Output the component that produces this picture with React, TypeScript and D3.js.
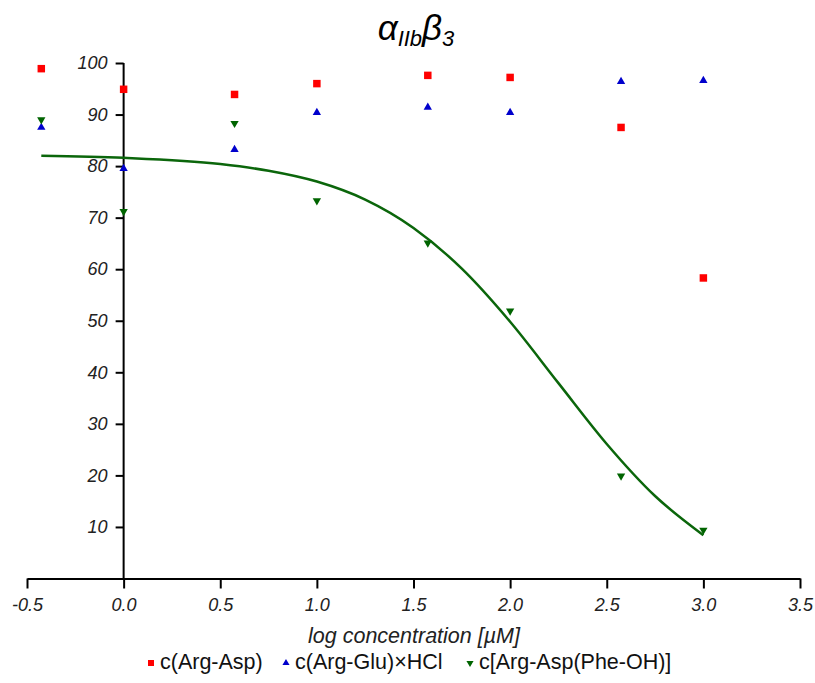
import { useEffect, useRef } from 'react';
import * as d3 from 'd3';

// log concentration [µM] for each measured point
const logConc = [-0.426, 0, 0.574, 1, 1.574, 2, 2.574, 3];
const argAsp = [98.9, 94.9, 93.9, 96.0, 97.6, 97.2, 87.5, 58.3];
const argGlu = [87.5, 79.5, 83.2, 90.4, 91.4, 90.4, 96.4, 96.6];
const argAspPhe = [89.0, 71.2, 88.3, 73.3, 65.1, 51.9, 19.9, 9.4];

// fitted curve for c[Arg-Asp(Phe-OH)]
const fitX = [-0.426, 0, 0.5, 0.75, 1, 1.25, 1.5, 1.75, 2, 2.25, 2.5, 2.75, 3];
const fitY = [82.0, 81.6, 80.4, 79.1, 77.0, 73.5, 68.0, 60.1, 49.8, 37.9, 26.1, 16.0, 8.4];

const xTicks = [-0.5, 0, 0.5, 1, 1.5, 2, 2.5, 3, 3.5];
const yTicks = [10, 20, 30, 40, 50, 60, 70, 80, 90, 100];

const seriesNames = ['c(Arg-Asp)', 'c(Arg-Glu)×HCl', 'c[Arg-Asp(Phe-OH)]'];
const seriesColors = ['#ff0000', '#0000cc', '#006400'];

const FONT = '"Liberation Sans", Arial, sans-serif';

export default function App() {
  const svgRef = useRef<SVGSVGElement>(null);

  useEffect(() => {
    const width = 815;
    const height = 683;
    const margin = { top: 63, right: 15, bottom: 104.5, left: 27 };

    const svg = d3.select(svgRef.current);
    svg.selectAll('*').remove();
    svg.attr('width', width).attr('height', height);

    const x = d3.scaleLinear().domain([-0.5, 3.5]).range([margin.left, width - margin.right]);
    const y = d3.scaleLinear().domain([0, 100]).range([height - margin.bottom, margin.top]);

    // title: alpha IIb beta 3
    const title = svg.append('text')
      .attr('x', 416)
      .attr('y', 40)
      .attr('text-anchor', 'middle')
      .style('font-family', FONT)
      .style('font-style', 'italic')
      .style('font-size', '35px')
      .attr('fill', '#000');
    title.append('tspan').text('α');
    title.append('tspan').attr('dy', 6).style('font-size', '22px').text('IIb');
    title.append('tspan').attr('dy', -6).text('β');
    title.append('tspan').attr('dy', 6).style('font-size', '22px').text('3');

    // x axis
    const xAxis = svg.append('g')
      .attr('transform', `translate(0,${y(0)})`)
      .call(d3.axisBottom(x).tickValues(xTicks).tickSize(10).tickSizeOuter(0).tickPadding(10));
    xAxis.select('.domain').attr('stroke-width', 2);
    xAxis.selectAll('.tick line').attr('stroke-width', 2);
    xAxis.selectAll('.tick text')
      .style('font-family', FONT)
      .style('font-style', 'italic')
      .style('font-size', '18px')
      .attr('fill', '#222')
      .text((d: any) => d3.format('.1f')(d).replace('−', '-'));

    // y axis sits at log concentration 0
    const yAxis = svg.append('g')
      .attr('transform', `translate(${x(0)},0)`)
      .call(d3.axisLeft(y).tickValues(yTicks).tickSize(8).tickSizeOuter(0).tickPadding(8));
    yAxis.select('.domain').attr('stroke-width', 2).attr('d', `M0,${y(0)}V${y(100)}`);
    yAxis.selectAll('.tick line').attr('stroke-width', 2);
    yAxis.selectAll('.tick text')
      .style('font-family', FONT)
      .style('font-style', 'italic')
      .style('font-size', '18px')
      .attr('fill', '#222');

    // axis title
    svg.append('text')
      .attr('x', 414)
      .attr('y', 643)
      .attr('text-anchor', 'middle')
      .style('font-family', FONT)
      .style('font-style', 'italic')
      .style('font-size', '21.5px')
      .attr('fill', '#222')
      .text('log concentration [µM]');

    // fitted curve
    const line = d3.line<number>()
      .x((d, i) => x(fitX[i]))
      .y(d => y(d))
      .curve(d3.curveMonotoneX);
    svg.append('path')
      .datum(fitY)
      .attr('d', line)
      .attr('fill', 'none')
      .attr('stroke', '#0b660b')
      .attr('stroke-width', 2.5);

    const sq = d3.symbol().type(d3.symbolSquare).size(56);
    const tri = d3.symbol().type(d3.symbolTriangle).size(30);
    const symbols = [sq(), tri(), tri()];
    const rotations = [0, 0, 180];
    const allSeries = [argAsp, argGlu, argAspPhe];

    allSeries.forEach((vals, s) => {
      svg.append('g')
        .selectAll('path')
        .data(vals)
        .join('path')
        .attr('d', symbols[s])
        .attr('transform', (d, i) => `translate(${x(logConc[i])},${y(d)}) rotate(${rotations[s]})`)
        .attr('fill', seriesColors[s]);
    });

    // legend
    const legend = svg.append('g').attr('transform', 'translate(0,669)');
    const legendX = [151, 286, 470];
    seriesNames.forEach((name, s) => {
      const g = legend.append('g').attr('transform', `translate(${legendX[s]},0)`);
      g.append('path')
        .attr('d', s === 0 ? d3.symbol().type(d3.symbolSquare).size(36)() : d3.symbol().type(d3.symbolTriangle).size(22)())
        .attr('transform', `translate(0,-6) rotate(${rotations[s]})`)
        .attr('fill', seriesColors[s]);
      g.append('text')
        .attr('x', 9)
        .attr('y', 0)
        .style('font-family', FONT)
        .style('font-size', '21.5px')
        .attr('fill', '#111')
        .text(name);
    });
  }, []);

  return (
    <div style={{ position: 'absolute', left: 0, top: 0 }}>
      <svg ref={svgRef} style={{ display: 'block', background: '#fff' }}></svg>
    </div>
  );
}
